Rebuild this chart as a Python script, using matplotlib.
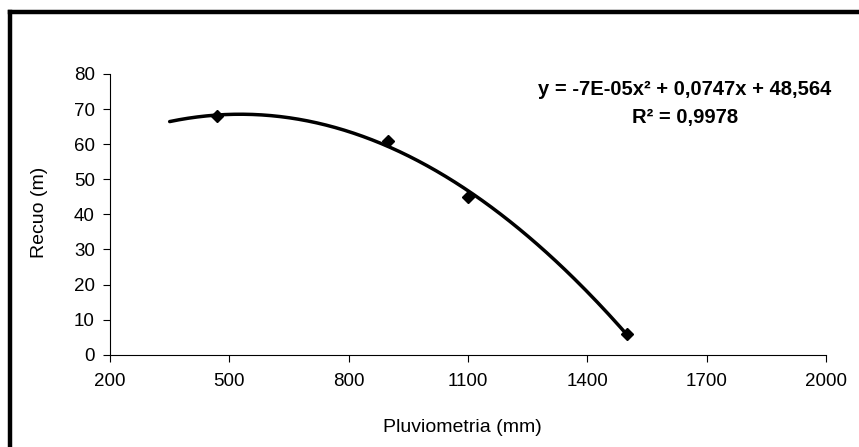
import numpy as np
import matplotlib
matplotlib.use("Agg")
import matplotlib.pyplot as plt
from matplotlib.lines import Line2D

plt.rcParams['font.family'] = ['Liberation Sans', 'DejaVu Sans']

# Data
pluviometria = [470, 900, 1100, 1500]
recuo = [68, 61, 45, 6]
xticks = [200, 500, 800, 1100, 1400, 1700, 2000]
yticks = [0, 10, 20, 30, 40, 50, 60, 70, 80]
trend_start = 350
equation = "y = -7E-05x² + 0,0747x + 48,564"
r2_text = "R² = 0,9978"

W, H = 859, 447
fig = plt.figure(figsize=(W / 100, H / 100), dpi=100)

# Outer frame (left and top edges visible)
fig.add_artist(Line2D([10 / W, 10 / W], [0, 1 - 12 / H], transform=fig.transFigure,
                      color='black', linewidth=3.2, solid_capstyle='projecting'))
fig.add_artist(Line2D([10 / W, 1], [1 - 12 / H, 1 - 12 / H], transform=fig.transFigure,
                      color='black', linewidth=3.2, solid_capstyle='projecting'))

left, right = 110, 826
top, bottom = 74, 354.7
ax = fig.add_axes([left / W, 1 - bottom / H, (right - left) / W, (bottom - top) / H])

# Polynomial trendline (order 2) fitted to the data
coef = np.polyfit(pluviometria, recuo, 2)
xs = np.linspace(trend_start, max(pluviometria), 200)
ax.plot(xs, np.polyval(coef, xs), color='black', linewidth=2.5, solid_capstyle='round', zorder=2)
ax.plot(pluviometria, recuo, linestyle='none', marker='D', markersize=6.5,
        color='black', zorder=3)

ax.set_xlim(200, 2000)
ax.set_ylim(0, 80)
ax.set_xticks(xticks)
ax.set_yticks(yticks)
ax.tick_params(axis='both', direction='out', length=5, width=0.8, labelsize=13.5, pad=6)
ax.tick_params(axis='x', pad=8)
for s in ['top', 'right']:
    ax.spines[s].set_visible(False)
for s in ['left', 'bottom']:
    ax.spines[s].set_linewidth(0.8)

fig.text(462 / W, 1 - 427 / H, "Pluviometria (mm)", ha='center', va='center', fontsize=14)
fig.text(39 / W, 1 - 212 / H, "Recuo (m)", ha='center', va='center', fontsize=14, rotation=90)

fig.text(685 / W, 1 - 90 / H, equation, ha='center', va='center', fontsize=14.5, fontweight='bold')
fig.text(685 / W, 1 - 118 / H, r2_text, ha='center', va='center', fontsize=14.5, fontweight='bold')

fig.savefig("out.png", dpi=100)
